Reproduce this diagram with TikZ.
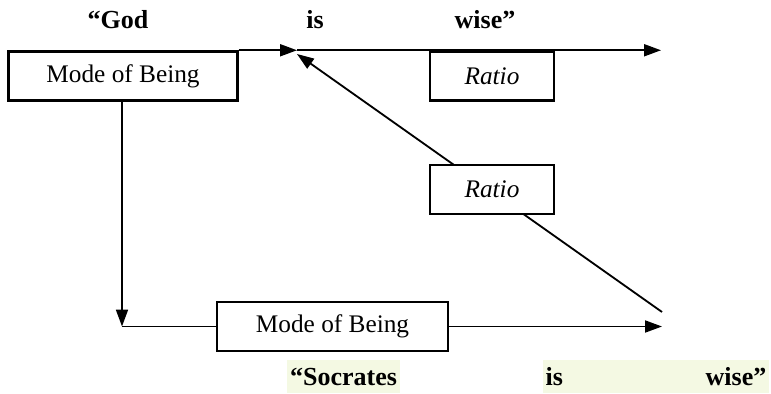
\documentclass[tikz,border=0pt]{standalone}
\usepackage{fontspec}
\setmainfont{Liberation Serif}
\usepackage{tikz}
\usetikzlibrary{arrows.meta,positioning,backgrounds}
\definecolor{hlfill}{HTML}{F4F9E3}

\begin{document}
\begin{tikzpicture}[x=0.025cm, y=-0.025cm,
  modebox/.style={draw, line width=1.6pt, fill=white, minimum height=35pt, inner sep=0pt, font=\fontsize{18}{21}\selectfont},
  word/.style={font=\fontsize{18.5}{22}\selectfont\bfseries, inner sep=1pt},
  hl/.style={word, fill=hlfill, minimum height=23pt, inner xsep=2pt},
  arr/.style={-{Triangle[length=12pt, width=8.5pt]}, line width=1.3pt}
]
  \useasboundingbox (0,0) rectangle (771,394);
  % boxes
  \node[modebox, minimum width=163pt] (mobtop) at (123,76) {Mode of Being};
  \node[modebox, minimum width=88pt] (ratiotop) at (492,76) {\itshape Ratio};
  \node[modebox, minimum width=88pt] (ratiomid) at (492,189.5) {\itshape Ratio};
  \node[modebox, minimum width=164pt] (mobbot) at (332.5,326.5) {Mode of Being};
  % free ends
  \coordinate (meet) at (297,54);
  \coordinate (topend) at (661,52);
  \coordinate (bend) at (122,327);
  \coordinate (botend) at (662,327);
  \coordinate (diagstart) at (662,312);
  % sentence words
  \node[word] (god) at (118,20) {“God};
  \node[word] (istop) at (315,20) {is};
  \node[word] (wisetop) at (485,20) {wise”};
  \node[hl] (socr) at (343.5,376.5) {“Socrates};
  \node[hl, text width=157pt] (isw) at (656,376.5) {is\hfill wise”};
  % connectors
  \draw[arr] (mobtop.north east) -- (meet |- mobtop.north east);
  \draw[arr] (meet |- mobtop.north east) -- (topend |- mobtop.north east);
  \draw[arr] (mobtop.south -| bend) -- (bend |- mobbot.west);
  \draw[line width=1.3pt] (bend |- mobbot.west) -- (mobbot.west);
  \draw[arr] (mobbot.east) -- (botend |- mobbot.east);
  \begin{scope}[on background layer]
    \draw[arr] (diagstart) -- (meet);
  \end{scope}
\end{tikzpicture}
\end{document}
